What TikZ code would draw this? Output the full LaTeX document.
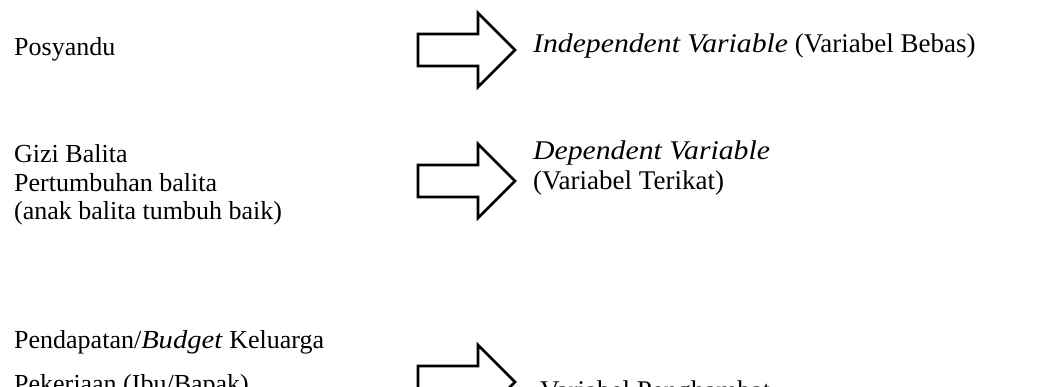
\documentclass[tikz,border=0pt]{standalone}
\usepackage{fontspec}
\setmainfont{Liberation Serif}[ItalicFeatures={FakeStretch=1.1}]
\begin{document}
\begin{tikzpicture}[x=1pt,y=-1pt,
  lbl/.style={anchor=base west, inner sep=0pt, align=left, font=\fontsize{26}{28.5}\selectfont},
  arrowline/.style={draw=black, line width=2.8pt, fill=white, line join=miter},
  barrow/.pic={\draw[arrowline] (0,-16) -- (60,-16) -- (60,-37) -- (97,0) -- (60,37) -- (60,16) -- (0,16) -- cycle;}]
\useasboundingbox (0,0) rectangle (1064,387);
\clip (0,0) rectangle (1064,387);
% left column
\node[lbl] (posyandu) at (14,56) {Posyandu};
\node[lbl] (gizi) at (14,220) {Gizi Balita\\Pertumbuhan balita\\(anak balita tumbuh baik)};
\node[lbl] (pendapatan) at (14,348) {Pendapatan/\textit{Budget} Keluarga};
\node[lbl] (pekerjaan) at (14,392) {Pekerjaan (Ibu/Bapak)};
% block arrows
\pic (a1) at (418,50) {barrow};
\pic (a2) at (418,181) {barrow};
\pic (a3) at (418,382) {barrow};
% right column
\node[lbl, font=\fontsize{27}{30}\selectfont] (indep) at (533,53) {\textit{Independent Variable} (Variabel Bebas)};
\node[lbl, font=\fontsize{27}{30}\selectfont] (dep) at (533,190) {\textit{Dependent Variable}\\(Variabel Terikat)};
\node[lbl, font=\fontsize{27}{30}\selectfont] (hamb) at (540,399) {Variabel Penghambat};
\end{tikzpicture}
\end{document}
